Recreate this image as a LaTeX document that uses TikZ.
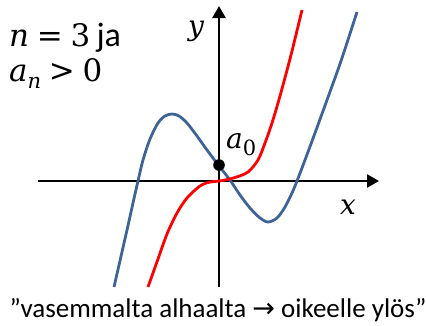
\documentclass[tikz,border=0pt]{standalone}
\usepackage{fontspec}
\setmainfont{Carlito}
\newfontfamily\symfont{DejaVu Sans}
\newfontfamily\mfont{DejaVu Serif}
\usetikzlibrary{arrows.meta}
\definecolor{curveblue}{RGB}{62,99,150}
\definecolor{curvered}{RGB}{255,0,0}
\newcommand{\mv}[1]{{\mfont\itshape #1}}
\newcommand{\mr}[1]{{\mfont #1}}
\newcommand{\msub}[1]{\raisebox{-0.25em}{\fontsize{21}{21}\selectfont\mfont #1}}
\tikzset{
  axis/.style={line width=2.6pt, -{Triangle[length=12pt,width=13pt]}},
  curve/.style={line width=2.8pt, line join=round},
  lbl/.style={inner sep=0pt, font=\fontsize{28}{30}\selectfont},
  toptext/.style={inner sep=0pt, font=\fontsize{31}{34}\selectfont},
}
\begin{document}
\begin{tikzpicture}[x=1pt,y=-1pt]
\useasboundingbox (0,0) rectangle (426,325);
% axes
\coordinate (xs) at (38,181);
\coordinate (xe) at (379,181);
\coordinate (ys) at (219,287);
\coordinate (ye) at (219,6);
\draw[axis] (xs) -- (xe);
\draw[axis] (ys) -- (ye);
% blue curve
\draw[curve, curveblue] plot[smooth, tension=0.5] coordinates {
 (114,287) (127,230) (133,203) (138,181) (143,160) (150,139) (158,123) (165,116) (172,114)
 (179,116) (187,123) (197,136) (207,150) (219,166) (230,180) (240,195) (250,208) (260,218)
 (268,222) (277,218) (285,207) (292,193) (297,181) (305,160) (315,133) (327,100) (341,61) (357,12)};
% red curve
\draw[curve, curvered] plot[smooth, tension=0.5] coordinates {
 (148,287) (158,259) (167,234) (177,213) (187,198) (200,186) (210,182) (220,181)
 (235,177.5) (248,172) (258,160) (265,143) (272,123) (280,96) (291,55) (302,10)};
% a0 point
\fill (219,165) circle (5.8pt) node (a0pt) {};
\node[lbl, anchor=base west] (a0) at (226,148) {\mv{a}\msub{0}};
\node[lbl, anchor=center] (ylab) at (196,31) {\mv{y}};
\node[lbl, anchor=center] (xlab) at (348,207) {\mv{x}};
\node[toptext, anchor=base west] (t1) at (9,46) {\mv{n}\hspace{0.25em}\mr{=}\hspace{0.25em}\mr{3}\hspace{0.2em}{\fontsize{34}{34}\selectfont ja}};
\node[toptext, anchor=base west] (t2) at (9,81) {\mv{a}\msub{\itshape n}\hspace{0.25em}\mr{>}\hspace{0.25em}\mr{0}};
\node[lbl, anchor=base, font=\fontsize{27}{29}\selectfont] (bt) at (218,317) {”vasemmalta alhaalta {\symfont →} oikeelle ylös”};
\end{tikzpicture}
\end{document}
